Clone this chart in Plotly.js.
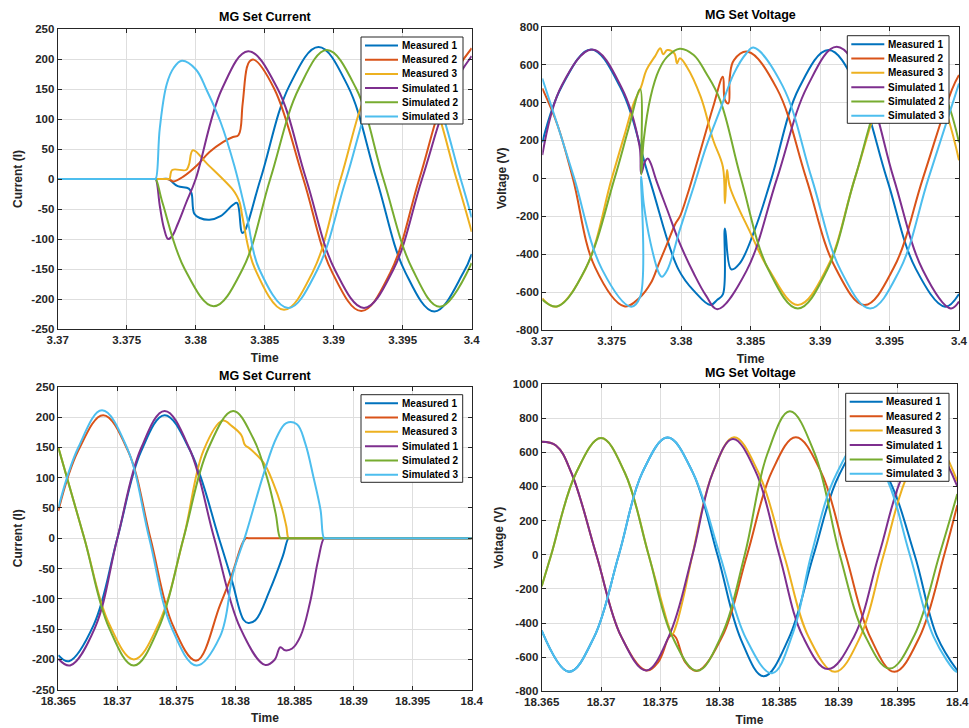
<!DOCTYPE html>
<html><head><meta charset="utf-8">
<script src="https://cdn.plot.ly/plotly-3.0.1.min.js"></script>
<style>html,body{margin:0;padding:0;background:#fff}#chart{width:969px;height:728px}</style>
</head><body><div id="chart"></div>
<script>
// ---------- series ----------
const seriesNames = ['Measured 1','Measured 2','Measured 3','Simulated 1','Simulated 2','Simulated 3'];
const seriesColors = ['#0072BD','#D95319','#EDB120','#7E2F8E','#77AC30','#4DBEEE'];

// ---------- tick labels ----------
const xTicksTop = [3.37,3.375,3.38,3.385,3.39,3.395,3.4];
const xTickTextTop = ['3.37','3.375','3.38','3.385','3.39','3.395','3.4'];
const xTicksBottom = [18.365,18.37,18.375,18.38,18.385,18.39,18.395,18.4];
const xTickTextBottom = ['18.365','18.37','18.375','18.38','18.385','18.39','18.395','18.4'];
const yTicksCurrent = [-250,-200,-150,-100,-50,0,50,100,150,200,250];
const yTickTextCurrent = ['-250','-200','-150','-100','-50','0','50','100','150','200','250'];
const yTicksVoltTop = [-800,-600,-400,-200,0,200,400,600,800];
const yTickTextVoltTop = ['-800','-600','-400','-200','0','200','400','600','800'];
const yTicksVoltBottom = [-800,-600,-400,-200,0,200,400,600,800,1000];
const yTickTextVoltBottom = ['-800','-600','-400','-200','0','200','400','600','800','1000'];

// ---------- Panel 1: MG Set Current (3.37 - 3.4) ----------
const p1_m1_t = [3.37,3.3740,3.3776,3.3780,3.3782,3.3787,3.3795,3.3797,3.3799,3.3803,3.3810,3.3818,3.3827,3.3830,3.3834,3.3847,3.3868,3.3889,3.3910,3.3931,3.3952,3.3973,3.3994,3.4];
const p1_m1_y = [0,0,0,0,-3,-12,-16,-24,-58,-65,-68,-62,-43,-40,-90,0,156,220,156,0,-156,-221,-156,-125];
const p1_m2_t = [3.37,3.3740,3.3775,3.3779,3.3781,3.3784,3.3791,3.3801,3.3810,3.3820,3.3827,3.3831,3.3834,3.3837,3.3839,3.3842,3.3857,3.3878,3.3899,3.3920,3.3941,3.3962,3.3983,3.4];
const p1_m2_y = [0,0,0,0,-1,-4,4,23,45,62,70,73,125,185,196,199,150,0,-156,-220,-156,0,156,218];
const p1_m3_t = [3.37,3.3740,3.3776,3.3780,3.3781,3.3783,3.3793,3.3795,3.3798,3.3808,3.3827,3.3830,3.3832,3.3834,3.3843,3.3864,3.3885,3.3905,3.3926,3.3947,3.3968,3.3989,3.4];
const p1_m3_y = [0,0,0,0,0,15,15,23,48,26,-18,-29,-40,-65,-150,-218,-154,0,154,218,154,0,-88];
const p1_s1_t = [3.37,3.3740,3.3766,3.3770,3.3771,3.3774,3.3777,3.3780,3.3783,3.3787,3.3793,3.3800,3.3819,3.3838,3.3859,3.3880,3.3901,3.3922,3.3943,3.3964,3.3985,3.4];
const p1_s1_y = [0,0,0,0,0,-45,-82,-100,-95,-75,-40,0,150,213,152,0,-152,-215,-152,0,148,205];
const p1_s2_t = [3.37,3.3740,3.3766,3.3770,3.3771,3.3776,3.3792,3.3813,3.3834,3.3854,3.3875,3.3895,3.3916,3.3936,3.3957,3.3977,3.4];
const p1_s2_y = [0,0,0,0,0,-40,-150,-212,-150,0,152,215,152,0,-150,-213,-140];
const p1_s3_t = [3.37,3.3740,3.3766,3.3770,3.3771,3.3774,3.3779,3.3784,3.3790,3.3800,3.3808,3.3818,3.3828,3.3837,3.3846,3.3867,3.3888,3.3909,3.3930,3.3950,3.3971,3.3992,3.4];
const p1_s3_y = [0,0,0,0,0,85,158,185,197,183,148,95,22,-62,-150,-215,-152,0,152,215,152,0,-64];

// ---------- Panel 2: MG Set Voltage (3.37 - 3.4) ----------
const p2_m1_t = [3.37,3.3714,3.3735,3.3756,3.3777,3.3798,3.3810,3.3821,3.3826,3.3830,3.38315,3.3836,3.3842,3.3853,3.3865,3.3885,3.3906,3.3927,3.3948,3.3969,3.3990,3.4];
const p2_m1_y = [190,485,680,483,0,-480,-600,-668,-640,-612,-264,-480,-450,-270,0,479,677,479,0,-479,-677,-610];
const p2_m2_t = [3.37,3.3711,3.3722,3.3738,3.3759,3.3770,3.3778,3.3784,3.3790,3.3796,3.3799,3.3804,3.3814,3.3823,3.3830,3.38315,3.3834,3.3835,3.3838,3.3848,3.3869,3.3890,3.3911,3.3932,3.3953,3.3974,3.3995,3.4];
const p2_m2_y = [475,280,0,-470,-675,-630,-554,-448,-343,-237,-202,-97,150,378,536,413,396,536,624,668,472,0,-472,-668,-472,0,470,545];
const p2_m3_t = [3.37,3.3710,3.3731,3.3750,3.3760,3.3766,3.3771,3.3775,3.3781,3.3785,3.3787,3.3790,3.3795,3.3797,3.3799,3.3804,3.3814,3.3823,3.3830,3.38315,3.3833,3.3835,3.3850,3.3863,3.3884,3.3905,3.3925,3.3946,3.3963,3.3984,3.4];
const p2_m3_y = [-633,-677,-480,0,250,400,480,572,642,686,655,677,660,607,633,589,431,202,61,-132,44,-44,-290,-480,-668,-472,0,472,670,472,95];
const p2_s1_t = [3.37,3.3714,3.3736,3.3757,3.3770,3.37712,3.3774,3.3776,3.3778,3.3782,3.3790,3.3799,3.3809,3.3818,3.3826,3.3847,3.3869,3.3891,3.3912,3.3933,3.3953,3.3974,3.3994,3.4];
const p2_s1_y = [123,490,680,480,170,26,90,105,80,-9,-167,-343,-501,-620,-690,-488,0,488,694,488,0,-485,-686,-650];
const p2_s2_t = [3.37,3.3711,3.3731,3.3752,3.3762,3.37705,3.37712,3.3773,3.3778,3.3784,3.3790,3.3799,3.3809,3.3818,3.3828,3.3843,3.3863,3.3884,3.3905,3.3925,3.3946,3.3966,3.3987,3.4];
const p2_s2_y = [-640,-675,-478,0,260,470,20,202,431,572,642,684,651,554,413,0,-485,-686,-485,0,485,686,485,190];
const p2_s3_t = [3.37,3.3711,3.3723,3.3743,3.3764,3.37705,3.37712,3.3773,3.3778,3.3784,3.3786,3.3790,3.3799,3.3809,3.3818,3.3828,3.3838,3.3847,3.3852,3.3873,3.3894,3.3915,3.3936,3.3957,3.3978,3.4];
const p2_s3_y = [527,280,0,-480,-677,-624,9,-132,-343,-501,-519,-483,-272,-44,167,361,554,660,690,488,0,-488,-686,-488,0,500];

// ---------- Panel 3: MG Set Current (18.365 - 18.4) ----------
const p3_m1_t = [18.365,18.3659,18.3680,18.3700,18.3720,18.3740,18.3762,18.3786,18.3797,18.3807,18.3811,18.3817,18.3829,18.3840,18.3845,18.3847,18.4];
const p3_m1_y = [-193,-203,-143,0,143,203,143,0,-70,-135,-140,-135,-86,-30,0,0,0];
const p3_m2_t = [18.365,18.3667,18.3688,18.3709,18.3728,18.3747,18.3767,18.3787,18.3797,18.3806,18.3809,18.3811,18.4];
const p3_m2_y = [45,145,203,144,0,-144,-202,-110,-60,-8,0,0,0];
const p3_m3_t = [18.365,18.3672,18.3693,18.3714,18.3735,18.3756,18.3773,18.3789,18.3797,18.3805,18.3808,18.3812,18.3824,18.3832,18.3839,18.3843,18.3845,18.3847,18.4];
const p3_m3_y = [150,0,-141,-200,-141,0,145,194,185,170,154,148,124,91,52,20,0,0,0];
const p3_s1_t = [18.365,18.3660,18.3681,18.3700,18.3720,18.3740,18.3761,18.3782,18.3804,18.3825,18.3833,18.3838,18.3842,18.3848,18.3855,18.3863,18.3870,18.3875,18.3877,18.4];
const p3_s1_y = [-199,-210,-148,0,148,210,148,0,-148,-209,-201,-180,-185,-182,-162,-107,-36,0,0,0];
const p3_s2_t = [18.365,18.3672,18.3693,18.3714,18.3735,18.3756,18.3777,18.3798,18.3815,18.3827,18.3834,18.3838,18.3840,18.4];
const p3_s2_y = [150,0,-148,-210,-148,0,148,210,165,98,41,0,0,0];
const p3_s3_t = [18.365,18.3667,18.3687,18.3708,18.3727,18.3746,18.3767,18.3787,18.3798,18.3809,18.3824,18.3835,18.3843,18.3852,18.3859,18.3866,18.3872,18.3875,18.3877,18.4];
const p3_s3_y = [50,150,211,150,0,-148,-210,-162,-58,8,107,167,190,188,157,101,47,0,0,0];

// ---------- Panel 4: MG Set Voltage (18.365 - 18.4) ----------
const p4_m1_t = [18.365,18.3673,18.3694,18.3715,18.3735,18.3756,18.3777,18.3798,18.3818,18.3837,18.3858,18.3879,18.3900,18.3920,18.3941,18.3964,18.3983,18.4];
const p4_m1_y = [-444,-685,-484,0,485,686,485,0,-500,-712,-490,0,460,650,460,0,-480,-678];
const p4_m2_t = [18.365,18.3662,18.3675,18.3696,18.3717,18.3738,18.3748,18.3757,18.3760,18.3763,18.3771,18.3781,18.3802,18.3823,18.3844,18.3864,18.3885,18.3906,18.3927,18.3947,18.3968,18.3989,18.4];
const p4_m2_y = [662,640,480,0,-480,-678,-630,-485,-468,-485,-630,-680,-480,0,490,688,488,0,-488,-686,-485,0,290];
const p4_m3_t = [18.365,18.3658,18.3679,18.3700,18.3720,18.3740,18.3750,18.3757,18.3760,18.3763,18.3769,18.3777,18.3794,18.3812,18.3832,18.3854,18.3875,18.3897,18.3918,18.3938,18.3959,18.3979,18.4];
const p4_m3_y = [-185,0,480,683,480,0,-250,-420,-465,-420,-260,0,480,688,490,0,-485,-686,-485,0,480,672,430];
const p4_s1_t = [18.365,18.3662,18.3675,18.3696,18.3717,18.3738,18.3757,18.3777,18.3794,18.3811,18.3830,18.3850,18.3870,18.3891,18.3913,18.3934,18.3955,18.3975,18.4];
const p4_s1_y = [662,640,480,0,-480,-678,-480,0,480,678,490,0,-480,-670,-480,0,480,675,400];
const p4_s2_t = [18.365,18.3658,18.3679,18.3700,18.3720,18.3740,18.3760,18.3781,18.3801,18.3821,18.3840,18.3859,18.3880,18.3901,18.3922,18.3943,18.3964,18.3985,18.4];
const p4_s2_y = [-185,0,480,683,480,0,-480,-680,-480,0,590,840,590,0,-470,-667,-470,0,355];
const p4_s3_t = [18.365,18.3673,18.3694,18.3715,18.3735,18.3756,18.3777,18.3800,18.3822,18.3844,18.3862,18.3877,18.3898,18.3918,18.3939,18.3960,18.3980,18.3999,18.4];
const p4_s3_y = [-444,-685,-484,0,485,686,485,0,-490,-694,-450,0,470,660,470,0,-480,-685,-684];

// ---------- layout helpers ----------
const W = 969, H = 728;
const fontFam = 'Liberation Sans, Arial, sans-serif';
const dark = '#262626';
function fx(p){ return p / W; }
function fy(p){ return 1 - p / H; }

const panels = [
  { sfx:'', box:[57.7,29,471.7,329], xr:[3.37,3.4], yr:[-250,250],
    xt:xTicksTop, xtt:xTickTextTop, yt:yTicksCurrent, ytt:yTickTextCurrent,
    title:'MG Set Current', titleXY:[265,17], ytitle:'Current (I)', leg:[361,37,463,124],
    data:[[p1_m1_t,p1_m1_y],[p1_m2_t,p1_m2_y],[p1_m3_t,p1_m3_y],[p1_s1_t,p1_s1_y],[p1_s2_t,p1_s2_y],[p1_s3_t,p1_s3_y]] },
  { sfx:'2', box:[542.3,26.7,959,330], xr:[3.37,3.4], yr:[-800,800],
    xt:xTicksTop, xtt:xTickTextTop, yt:yTicksVoltTop, ytt:yTickTextVoltTop,
    title:'MG Set Voltage', titleXY:[750,15], ytitle:'Voltage (V)', leg:[847.3,35.7,949,123.3],
    data:[[p2_m1_t,p2_m1_y],[p2_m2_t,p2_m2_y],[p2_m3_t,p2_m3_y],[p2_s1_t,p2_s1_y],[p2_s2_t,p2_s2_y],[p2_s3_t,p2_s3_y]] },
  { sfx:'3', box:[58.3,386.7,471.7,689.7], xr:[18.365,18.4], yr:[-250,250],
    xt:xTicksBottom, xtt:xTickTextBottom, yt:yTicksCurrent, ytt:yTickTextCurrent,
    title:'MG Set Current', titleXY:[265,375.5], ytitle:'Current (I)', leg:[361,394.7,462.7,482.3],
    data:[[p3_m1_t,p3_m1_y],[p3_m2_t,p3_m2_y],[p3_m3_t,p3_m3_y],[p3_s1_t,p3_s1_y],[p3_s2_t,p3_s2_y],[p3_s3_t,p3_s3_y]] },
  { sfx:'4', box:[541.7,384,957.3,691.3], xr:[18.365,18.4], yr:[-800,1000],
    xt:xTicksBottom, xtt:xTickTextBottom, yt:yTicksVoltBottom, ytt:yTickTextVoltBottom,
    title:'MG Set Voltage', titleXY:[750,373.5], ytitle:'Voltage (V)', leg:[845.7,393.3,949,481.3],
    data:[[p4_m1_t,p4_m1_y],[p4_m2_t,p4_m2_y],[p4_m3_t,p4_m3_y],[p4_s1_t,p4_s1_y],[p4_s2_t,p4_s2_y],[p4_s3_t,p4_s3_y]] }
];

function axisBase(){
  return { showgrid:true, gridcolor:'#dedede', gridwidth:1, zeroline:false,
    showline:true, linecolor:dark, linewidth:1, mirror:'ticks',
    ticks:'inside', ticklen:4, tickwidth:1, tickcolor:dark, tickmode:'array',
    ticklabeloverflow:'allow',
    tickfont:{family:fontFam, size:11.5, color:dark, weight:'bold'}, fixedrange:true };
}

const traces = [];
const layout = {
  width:W, height:H, margin:{l:0,r:0,t:0,b:0}, paper_bgcolor:'#fff', plot_bgcolor:'#fff',
  showlegend:false, shapes:[], annotations:[]
};

panels.forEach(p => {
  const [x0,y0,x1,y1] = p.box;
  const xa = 'xaxis' + p.sfx, ya = 'yaxis' + p.sfx;
  const xs = 'x' + p.sfx, ys = 'y' + p.sfx;
  layout[xa] = Object.assign(axisBase(), {
    domain:[fx(x0), fx(x1)], range:p.xr, tickvals:p.xt, ticktext:p.xtt, anchor:ys,
    title:{text:'Time', font:{family:fontFam, size:12, color:dark, weight:'bold'}, standoff:8}
  });
  layout[ya] = Object.assign(axisBase(), {
    domain:[fy(y1), fy(y0)], range:p.yr, tickvals:p.yt, ticktext:p.ytt, anchor:xs,
    title:{text:p.ytitle, font:{family:fontFam, size:12, color:dark, weight:'bold'}, standoff:6}
  });
  p.data.forEach((d, i) => {
    traces.push({ type:'scatter', mode:'lines', x:d[0], y:d[1], name:seriesNames[i],
      xaxis:xs, yaxis:ys, hoverinfo:'skip',
      line:{color:seriesColors[i], width:2, shape:'spline', smoothing:1.1} });
  });
  layout.annotations.push({ xref:'paper', yref:'paper', x:fx(p.titleXY[0]), y:fy(p.titleXY[1]),
    xanchor:'center', yanchor:'middle', showarrow:false, text:p.title,
    font:{family:fontFam, size:12.5, color:'#000', weight:'bold'} });
  const [lx0,ly0,lx1,ly1] = p.leg;
  layout.shapes.push({ type:'rect', xref:'paper', yref:'paper', x0:fx(lx0), x1:fx(lx1), y0:fy(ly1), y1:fy(ly0),
    fillcolor:'#fff', line:{color:dark, width:1}, layer:'above' });
  const rowGap = (ly1 - ly0 - 16) / 5;
  seriesNames.forEach((nm, i) => {
    const ry = ly0 + 8.5 + i * rowGap;
    layout.shapes.push({ type:'line', xref:'paper', yref:'paper', x0:fx(lx0+4), x1:fx(lx0+37), y0:fy(ry), y1:fy(ry),
      line:{color:seriesColors[i], width:2}, layer:'above' });
    layout.annotations.push({ xref:'paper', yref:'paper', x:fx(lx0+38.5), y:fy(ry), xanchor:'left', yanchor:'middle',
      showarrow:false, text:nm, font:{family:fontFam, size:10, color:'#000', weight:'bold'} });
  });
});

Plotly.newPlot('chart', traces, layout, {staticPlot:true, displayModeBar:false});
</script></body></html>
